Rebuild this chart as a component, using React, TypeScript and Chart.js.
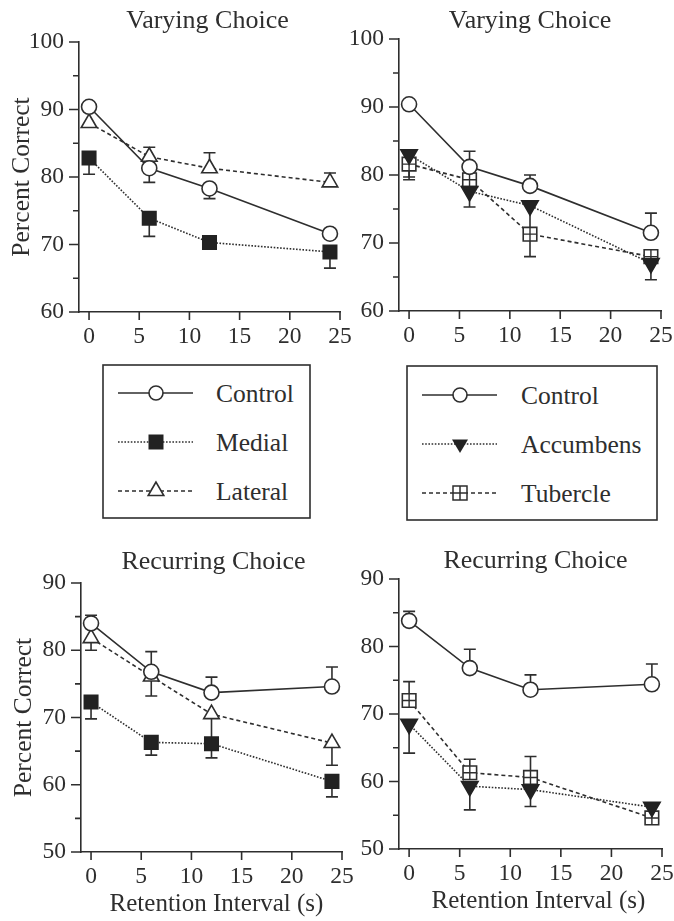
import React, { useEffect, useRef } from "react";
import { Chart, registerables } from "chart.js";

Chart.register(...registerables);

// ---------------- data ----------------
const RETENTION_S = [0, 6, 12, 24];
const X_TICKS = [0, 5, 10, 15, 20, 25];
const Y_TICKS_VARYING = [60, 65, 70, 75, 80, 85, 90, 95, 100];
const Y_TICKS_RECURRING = [50, 55, 60, 65, 70, 75, 80, 85, 90];

const PANEL_TITLES = ["Varying Choice", "Varying Choice", "Recurring Choice", "Recurring Choice"];
const Y_TITLE = "Percent Correct";
const X_TITLE = "Retention Interval (s)";

// Varying choice: control / medial / lateral (error: + upper bar, - lower bar)
const VAR_CTRL_1 = [90.4, 81.3, 78.3, 71.6];
const VAR_CTRL_1_ERR = [0, -2.1, -1.5, 0];
const VAR_MEDIAL = [82.8, 73.9, 70.3, 68.9];
const VAR_MEDIAL_ERR = [-2.4, -2.7, 0, -2.4];
const VAR_LATERAL = [88.0, 83.0, 81.3, 79.2];
const VAR_LATERAL_ERR = [0, 1.4, 2.3, 1.4];

// Varying choice: control / accumbens / tubercle
const VAR_CTRL_2 = [90.4, 81.2, 78.4, 71.5];
const VAR_CTRL_2_ERR = [0, 2.3, 1.6, 2.9];
const VAR_ACCUMBENS = [83.0, 77.6, 75.5, 67.0];
const VAR_ACCUMBENS_ERR = [-3.7, -2.3, -3.5, -2.4];
const VAR_TUBERCLE = [81.6, 79.3, 71.3, 68.0];
const VAR_TUBERCLE_ERR = [-1.9, 0, -3.3, 0];

// Recurring choice: control / medial / lateral
const REC_CTRL_1 = [84.0, 76.8, 73.7, 74.6];
const REC_CTRL_1_ERR = [1.2, 3.0, 2.3, 2.9];
const REC_MEDIAL = [72.3, 66.3, 66.1, 60.5];
const REC_MEDIAL_ERR = [-2.5, -1.9, -2.1, -2.3];
const REC_LATERAL = [81.8, 76.1, 70.5, 66.2];
const REC_LATERAL_ERR = [-1.8, -2.9, -4.0, -3.3];

// Recurring choice: control / accumbens / tubercle
const REC_CTRL_2 = [83.8, 76.8, 73.6, 74.4];
const REC_CTRL_2_ERR = [1.4, 2.8, 2.2, 3.0];
const REC_ACCUMBENS = [68.5, 59.3, 58.8, 56.2];
const REC_ACCUMBENS_ERR = [-4.3, -3.5, -2.5, 0];
const REC_TUBERCLE = [72.0, 61.3, 60.6, 54.6];
const REC_TUBERCLE_ERR = [2.8, 2.0, 3.1, 0];

const LEGEND_LEFT = ["Control", "Medial", "Lateral"];
const LEGEND_RIGHT = ["Control", "Accumbens", "Tubercle"];

// ---------------- styles ----------------
const FONT = '"Liberation Serif", "Times New Roman", Times, serif';
const INK = "#2e2e2e";
const FILL = "#222222";

function seriesStyle(name: string): any {
  const base = {
    borderColor: INK,
    borderWidth: 1.6,
    pointBorderWidth: 1.6,
    pointBorderColor: INK,
    tension: 0,
    fill: false,
    clip: false,
  };
  switch (name) {
    case "Control":
      return { ...base, borderDash: [], pointStyle: "circle", pointRadius: 7.5, pointBackgroundColor: "#ffffff" };
    case "Medial":
      return { ...base, borderDash: [1.6, 1.6], pointStyle: "rect", pointRadius: 9.5, pointBackgroundColor: FILL, pointBorderColor: FILL };
    case "Lateral":
      return { ...base, borderDash: [4, 3], pointStyle: "triangle", pointRadius: 9, pointBackgroundColor: "#ffffff" };
    case "Accumbens":
      return { ...base, borderDash: [1.6, 1.6], pointStyle: "triangle", pointRotation: 180, pointRadius: 9.5, pointBackgroundColor: FILL, pointBorderColor: FILL };
    case "Tubercle":
    default:
      return { ...base, borderDash: [4, 3], pointStyle: "rect", pointRadius: 9.6, pointBackgroundColor: "#ffffff", innerCross: true };
  }
}

type Series = { name: string; values: number[]; err: number[] };
type PanelCfg = {
  title: string;
  series: Series[];
  yTicks: number[];
  box: { x: number; y: number; w: number; h: number };
  area: { l: number; t: number; r: number; b: number };
  titleGap: number;
  titleDx: number;
  showYTitle: boolean;
  showXTitle: boolean;
  xTitleDx: number;
};

const Y_AXIS_W = 60;
const X_AXIS_H = 40;

function Panel({ cfg }: { cfg: PanelCfg }) {
  const ref = useRef<HTMLCanvasElement | null>(null);
  useEffect(() => {
    const canvas = ref.current;
    if (!canvas) return;
    const { box, area } = cfg;

    const errorBars = {
      id: "errorBars",
      beforeDatasetsDraw(chart: any) {
        const { ctx } = chart;
        const xs = chart.scales.x;
        const ys = chart.scales.y;
        ctx.save();
        ctx.strokeStyle = INK;
        ctx.lineWidth = 1.6;
        ctx.setLineDash([]);
        chart.data.datasets.forEach((ds: any) => {
          ds.data.forEach((p: any, i: number) => {
            const e = ds.err[i];
            if (!e) return;
            const px = xs.getPixelForValue(p.x);
            const y0 = ys.getPixelForValue(p.y);
            const y1 = ys.getPixelForValue(p.y + e);
            ctx.beginPath();
            ctx.moveTo(px, y0);
            ctx.lineTo(px, y1);
            ctx.moveTo(px - 6, y1);
            ctx.lineTo(px + 6, y1);
            ctx.stroke();
          });
        });
        ctx.restore();
      },
      afterDatasetDraw(chart: any, args: any) {
        const ds: any = chart.data.datasets[args.index];
        if (!ds.innerCross) return;
        const { ctx } = chart;
        const half = ds.pointRadius * Math.SQRT1_2;
        ctx.save();
        ctx.strokeStyle = INK;
        ctx.lineWidth = 1.4;
        ctx.setLineDash([]);
        ctx.beginPath();
        args.meta.data.forEach((pt: any) => {
          ctx.moveTo(pt.x, pt.y - half);
          ctx.lineTo(pt.x, pt.y + half);
          ctx.moveTo(pt.x - half, pt.y);
          ctx.lineTo(pt.x + half, pt.y);
        });
        ctx.stroke();
        ctx.restore();
      },
    };

    const decor = {
      id: "decor",
      afterDraw(chart: any) {
        const { ctx, chartArea: a } = chart;
        const xs = chart.scales.x;
        const ys = chart.scales.y;
        ctx.save();
        ctx.strokeStyle = INK;
        ctx.lineWidth = 1.6;
        ctx.beginPath();
        ys.ticks.forEach((t: any) => {
          const py = ys.getPixelForValue(t.value);
          const len = t.value % 10 === 0 ? 10 : 6;
          ctx.moveTo(a.left - len, py);
          ctx.lineTo(a.left, py);
        });
        xs.ticks.forEach((t: any) => {
          const px = xs.getPixelForValue(t.value);
          ctx.moveTo(px, a.bottom);
          ctx.lineTo(px, a.bottom + 8);
        });
        ctx.stroke();

        ctx.fillStyle = INK;
        ctx.textAlign = "center";
        ctx.textBaseline = "middle";
        ctx.font = `26px ${FONT}`;
        ctx.fillText(cfg.title, (a.left + a.right) / 2 + cfg.titleDx, a.top - cfg.titleGap);
        if (cfg.showYTitle) {
          ctx.save();
          ctx.font = `25.5px ${FONT}`;
          ctx.translate(a.left - 57, (a.top + a.bottom) / 2);
          ctx.rotate(-Math.PI / 2);
          ctx.fillText(Y_TITLE, 0, 0);
          ctx.restore();
        }
        if (cfg.showXTitle) {
          ctx.font = `25px ${FONT}`;
          ctx.fillText(X_TITLE, (a.left + a.right) / 2 + cfg.xTitleDx, a.bottom + 52);
        }
        ctx.restore();
      },
    };

    const yt = cfg.yTicks;
    const chart = new Chart(canvas, {
      type: "line",
      data: {
        datasets: cfg.series.map((s) => ({
          label: s.name,
          data: RETENTION_S.map((x, i) => ({ x, y: s.values[i] })),
          err: s.err,
          ...seriesStyle(s.name),
        })) as any,
      },
      options: {
        animation: false,
        responsive: false,
        maintainAspectRatio: false,
        devicePixelRatio: 1,
        events: [],
        layout: {
          padding: {
            left: area.l - box.x - Y_AXIS_W,
            top: area.t - box.y,
            right: box.x + box.w - area.r,
            bottom: box.y + box.h - area.b - X_AXIS_H,
          },
        },
        plugins: {
          legend: { display: false },
          tooltip: { enabled: false },
          title: { display: false },
        },
        scales: {
          x: {
            type: "linear",
            min: -1,
            max: 25,
            afterBuildTicks: (s: any) => {
              s.ticks = X_TICKS.map((v) => ({ value: v }));
            },
            afterFit: (s: any) => {
              s.height = X_AXIS_H;
            },
            grid: {
              display: true,
              drawOnChartArea: false,
              drawTicks: true,
              tickLength: 8,
              color: "rgba(0,0,0,0)",
              tickColor: "rgba(0,0,0,0)",
            },
            border: { display: true, color: INK, width: 1.6 },
            ticks: {
              color: INK,
              font: { family: FONT, size: 23.5 },
              padding: 3,
              maxRotation: 0,
              autoSkip: false,
              includeBounds: false,
            },
          },
          y: {
            type: "linear",
            min: yt[0],
            max: yt[yt.length - 1],
            afterBuildTicks: (s: any) => {
              s.ticks = yt.map((v) => ({ value: v }));
            },
            afterFit: (s: any) => {
              s.width = Y_AXIS_W;
            },
            grid: {
              display: true,
              drawOnChartArea: false,
              drawTicks: true,
              tickLength: 10,
              color: "rgba(0,0,0,0)",
              tickColor: "rgba(0,0,0,0)",
            },
            border: { display: true, color: INK, width: 1.6 },
            ticks: {
              color: INK,
              font: { family: FONT, size: 23.5 },
              padding: 5,
              autoSkip: false,
              callback: (v: any) => (Number(v) % 10 === 0 ? String(v) : ""),
            },
          },
        },
      } as any,
      plugins: [errorBars, decor],
    });
    return () => chart.destroy();
  }, [cfg]);

  return (
    <canvas
      ref={ref}
      width={cfg.box.w}
      height={cfg.box.h}
      style={{
        position: "absolute",
        left: cfg.box.x,
        top: cfg.box.y,
        width: cfg.box.w,
        height: cfg.box.h,
      }}
    />
  );
}

const PANELS: PanelCfg[] = [
  {
    title: PANEL_TITLES[0],
    series: [
      { name: "Control", values: VAR_CTRL_1, err: VAR_CTRL_1_ERR },
      { name: "Medial", values: VAR_MEDIAL, err: VAR_MEDIAL_ERR },
      { name: "Lateral", values: VAR_LATERAL, err: VAR_LATERAL_ERR },
    ],
    yTicks: Y_TICKS_VARYING,
    box: { x: 0, y: 0, w: 360, h: 360 },
    area: { l: 79, t: 42, r: 340, b: 312 },
    titleGap: 21,
    titleDx: -2,
    showYTitle: true,
    showXTitle: false,
    xTitleDx: 0,
  },
  {
    title: PANEL_TITLES[1],
    series: [
      { name: "Control", values: VAR_CTRL_2, err: VAR_CTRL_2_ERR },
      { name: "Accumbens", values: VAR_ACCUMBENS, err: VAR_ACCUMBENS_ERR },
      { name: "Tubercle", values: VAR_TUBERCLE, err: VAR_TUBERCLE_ERR },
    ],
    yTicks: Y_TICKS_VARYING,
    box: { x: 330, y: 0, w: 360, h: 360 },
    area: { l: 399, t: 39, r: 661, b: 311 },
    titleGap: 18,
    titleDx: 0,
    showYTitle: false,
    showXTitle: false,
    xTitleDx: 0,
  },
  {
    title: PANEL_TITLES[2],
    series: [
      { name: "Control", values: REC_CTRL_1, err: REC_CTRL_1_ERR },
      { name: "Medial", values: REC_MEDIAL, err: REC_MEDIAL_ERR },
      { name: "Lateral", values: REC_LATERAL, err: REC_LATERAL_ERR },
    ],
    yTicks: Y_TICKS_RECURRING,
    box: { x: 0, y: 530, w: 360, h: 391 },
    area: { l: 81, t: 583, r: 342, b: 852 },
    titleGap: 21,
    titleDx: 2,
    showYTitle: true,
    showXTitle: true,
    xTitleDx: 5,
  },
  {
    title: PANEL_TITLES[3],
    series: [
      { name: "Control", values: REC_CTRL_2, err: REC_CTRL_2_ERR },
      { name: "Accumbens", values: REC_ACCUMBENS, err: REC_ACCUMBENS_ERR },
      { name: "Tubercle", values: REC_TUBERCLE, err: REC_TUBERCLE_ERR },
    ],
    yTicks: Y_TICKS_RECURRING,
    box: { x: 330, y: 530, w: 360, h: 391 },
    area: { l: 399, t: 579, r: 662, b: 849 },
    titleGap: 18,
    titleDx: 5,
    showYTitle: false,
    showXTitle: true,
    xTitleDx: 8,
  },
];

// ---------------- legends ----------------
function LegendMarker({ name, cx, cy }: { name: string; cx: number; cy: number }) {
  switch (name) {
    case "Control":
      return <circle cx={cx} cy={cy} r={7} fill="#fff" stroke={INK} strokeWidth={1.6} />;
    case "Medial":
      return <rect x={cx - 7.5} y={cy - 7.5} width={15} height={15} fill={FILL} />;
    case "Lateral":
      return (
        <polygon
          points={`${cx},${cy - 9} ${cx - 7.8},${cy + 4.5} ${cx + 7.8},${cy + 4.5}`}
          fill="#fff"
          stroke={INK}
          strokeWidth={1.6}
        />
      );
    case "Accumbens":
      return (
        <polygon
          points={`${cx},${cy + 9} ${cx - 8},${cy - 4.6} ${cx + 8},${cy - 4.6}`}
          fill={FILL}
        />
      );
    default:
      return (
        <g stroke={INK} strokeWidth={1.5} fill="#fff">
          <rect x={cx - 7} y={cy - 7} width={14} height={14} />
          <line x1={cx} y1={cy - 7} x2={cx} y2={cy + 7} />
          <line x1={cx - 7} y1={cy} x2={cx + 7} y2={cy} />
        </g>
      );
  }
}

function legendDash(name: string): string | undefined {
  if (name === "Medial" || name === "Accumbens") return "1.6 1.6";
  if (name === "Lateral" || name === "Tubercle") return "4 3";
  return undefined;
}

function LegendBox({
  names,
  x,
  y,
  w,
  h,
  lineX1,
  lineX2,
  markX,
  textX,
  rows,
}: {
  names: string[];
  x: number;
  y: number;
  w: number;
  h: number;
  lineX1: number;
  lineX2: number;
  markX: number;
  textX: number;
  rows: number[];
}) {
  return (
    <g>
      <rect x={x} y={y} width={w} height={h} fill="#fff" stroke={INK} strokeWidth={1.6} />
      {names.map((n, i) => (
        <g key={n}>
          <line
            x1={lineX1}
            y1={rows[i]}
            x2={lineX2}
            y2={rows[i]}
            stroke={INK}
            strokeWidth={1.6}
            strokeDasharray={legendDash(n)}
          />
          <LegendMarker name={n} cx={markX} cy={rows[i]} />
          <text
            x={textX}
            y={rows[i]}
            dominantBaseline="central"
            fontFamily={FONT}
            fontSize={25.5}
            fill={INK}
          >
            {n}
          </text>
        </g>
      ))}
    </g>
  );
}

export default function App() {
  return (
    <div
      style={{
        position: "absolute",
        left: 0,
        top: 0,
        width: 674,
        height: 921,
        overflow: "hidden",
        background: "#fff",
      }}
    >
      {PANELS.map((p, i) => (
        <Panel key={i} cfg={p} />
      ))}
      <svg
        width={674}
        height={921}
        style={{ position: "absolute", left: 0, top: 0, pointerEvents: "none" }}
      >
        <LegendBox
          names={LEGEND_LEFT}
          x={103}
          y={365}
          w={207}
          h={153}
          lineX1={118}
          lineX2={193}
          markX={156}
          textX={216}
          rows={[393, 442, 491]}
        />
        <LegendBox
          names={LEGEND_RIGHT}
          x={407}
          y={366}
          w={250}
          h={154}
          lineX1={422}
          lineX2={497}
          markX={460}
          textX={521}
          rows={[395, 444, 493]}
        />
      </svg>
    </div>
  );
}
